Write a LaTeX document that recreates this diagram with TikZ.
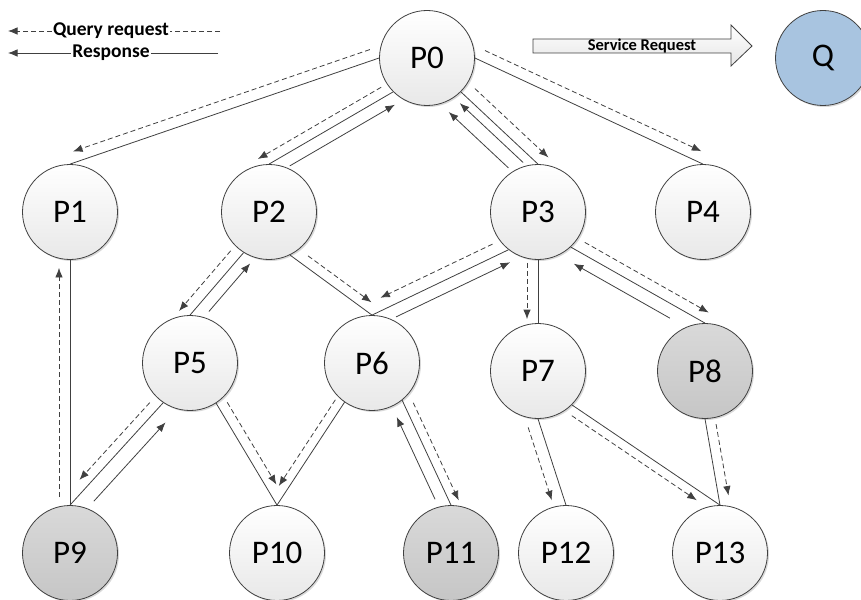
\documentclass[tikz,border=0pt]{standalone}
\usepackage{fontspec}
\setmainfont{Carlito}
\usetikzlibrary{calc,arrows.meta,shadows}
\definecolor{linec}{HTML}{404040}
\definecolor{nodebot}{HTML}{E8E8E8}
\definecolor{darktop}{HTML}{D9D9D9}
\definecolor{darkbot}{HTML}{C6C6C6}
\definecolor{qfill}{HTML}{A8C4E0}
\newcommand{\sidearrow}[6]{\draw[#1] ($(#2)!#4!(#3)!#6!90:(#3)$) -- ($(#3)!#5!(#2)!#6!-90:(#2)$);}
\tikzset{
  pnode/.style={circle, draw=linec, line width=0.8pt, minimum size=95pt, inner sep=0pt,
    top color=white, bottom color=nodebot, font=\fontsize{33}{38}\selectfont,
    drop shadow={shadow xshift=1.5pt, shadow yshift=-1.5pt, opacity=0.15, fill=black}},
  darknode/.style={pnode, top color=darktop, bottom color=darkbot},
  qnode/.style={pnode, top color=qfill, bottom color=qfill},
  link/.style={draw=linec, line width=0.8pt},
  query/.style={draw=linec, line width=0.8pt, dash pattern=on 5pt off 3pt, -{Latex[length=9.5pt,width=7.5pt]}},
  response/.style={draw=linec, line width=0.8pt, -{Latex[length=9.5pt,width=7.5pt]}},
  legendtext/.style={font=\fontsize{19.5}{22}\selectfont\bfseries, fill=white, inner sep=1pt},
}
\begin{document}
\begin{tikzpicture}[x=1pt,y=-1pt]
\clip (0,0) rectangle (861,599);
% nodes
\node[pnode] (P0) at (427,58) {P0};
\node[pnode] (P1) at (70,212) {P1};
\node[pnode] (P2) at (269,212) {P2};
\node[pnode] (P3) at (538,212) {P3};
\node[pnode] (P4) at (703,212) {P4};
\node[pnode] (P5) at (190,363) {P5};
\node[pnode] (P6) at (372,363) {P6};
\node[pnode] (P7) at (538,371) {P7};
\node[darknode] (P8) at (705,371) {P8};
\node[darknode] (P9) at (70,553) {P9};
\node[pnode] (P10) at (277,553) {P10};
\node[darknode] (P11) at (451,553) {P11};
\node[pnode] (P12) at (566,553) {P12};
\node[pnode] (P13) at (720,553) {P13};
\node[qnode] (Q) at (823,58) {Q};
% edges
\draw[link] (P0.west) -- (P1.north);
\draw[link] (P0.225) -- (P2.north);
\draw[link] (P0.315) -- (P3.north);
\draw[link] (P0.east) -- (P4.north);
\draw[link] (P1.south) -- (P9.north);
\draw[link] (P2.238) -- (P5.north);
\draw[link] (P2.296) -- (P6.north);
\draw[link] (P3.232) -- (P6.north);
\draw[link] (P3.south) -- (P7.north);
\draw[link] (P3.313) -- (P8.north);
\draw[link] (P5.236) -- (P9.north);
\draw[link] (P5.303) -- (P10.north);
\draw[link] (P6.235) -- (P10.north);
\draw[link] (P6.309) -- (P11.north);
\draw[link] (P7.south) -- (P12.north);
\draw[link] (P7.315) -- (P13.north);
\draw[link] (P8.south) -- (P13.north);
% query / response arrows
\sidearrow{query}{P0.west}{P1.north}{6pt}{7pt}{-11pt}
\sidearrow{query}{P0.225}{P2.north}{8pt}{-7pt}{-10pt}
\sidearrow{response}{P2.north}{P0.225}{17pt}{5pt}{-12pt}
\sidearrow{query}{P0.315}{P3.north}{8pt}{-3pt}{12pt}
\sidearrow{response}{P3.north}{P0.315}{12pt}{7pt}{9pt}
\sidearrow{response}{P3.north}{P0.315}{19pt}{5pt}{23pt}
\sidearrow{query}{P0.east}{P4.north}{6pt}{7pt}{11pt}
\sidearrow{query}{P9.north}{P1.south}{8pt}{8pt}{11pt}
\sidearrow{query}{P2.238}{P5.north}{7pt}{-4pt}{-11pt}
\sidearrow{response}{P5.north}{P2.238}{15pt}{4pt}{-12pt}
\sidearrow{query}{P2.296}{P6.north}{15pt}{8pt}{10pt}
\sidearrow{query}{P3.232}{P6.north}{12pt}{15pt}{-12pt}
\sidearrow{response}{P6.north}{P3.232}{21pt}{4pt}{-12pt}
\sidearrow{query}{P3.south}{P7.north}{3pt}{4pt}{-11pt}
\sidearrow{query}{P3.313}{P8.north}{10pt}{2pt}{11pt}
\sidearrow{response}{P8.north}{P3.313}{33pt}{11pt}{13pt}
\sidearrow{query}{P5.236}{P9.north}{9pt}{25pt}{-10pt}
\sidearrow{response}{P9.north}{P5.236}{19pt}{13pt}{-15pt}
\sidearrow{query}{P5.303}{P10.north}{5pt}{18pt}{10pt}
\sidearrow{query}{P6.235}{P10.north}{3pt}{17pt}{-9pt}
\sidearrow{query}{P6.309}{P11.north}{7pt}{1pt}{9pt}
\sidearrow{response}{P11.north}{P6.309}{12pt}{13pt}{12pt}
\sidearrow{query}{P7.south}{P12.north}{5pt}{9pt}{-12pt}
\sidearrow{query}{P7.315}{P13.north}{6pt}{22pt}{-9pt}
\sidearrow{query}{P8.south}{P13.north}{7pt}{8pt}{10pt}
% legend
\coordinate (qr) at (220,31);
\coordinate (ql) at (8,31);
\coordinate (rr) at (218,53);
\coordinate (rl) at (8,53);
\draw[query] (qr) -- (ql);
\draw[response] (rr) -- (rl);
\node[legendtext] (qlabel) at (111,31) {Query request};
\node[legendtext] (rlabel) at (111,53) {Response};
% service request block arrow
\path[draw=linec, line width=0.8pt, top color=white, bottom color=gray!20]
  (533,39) -- (731,39) -- (731,25) -- (752,46) -- (731,66) -- (731,53) -- (533,53) -- cycle;
\node[font=\fontsize{16.5}{20}\selectfont\bfseries, inner sep=0pt] (srlabel) at (642,46) {Service Request};
\end{tikzpicture}
\end{document}
